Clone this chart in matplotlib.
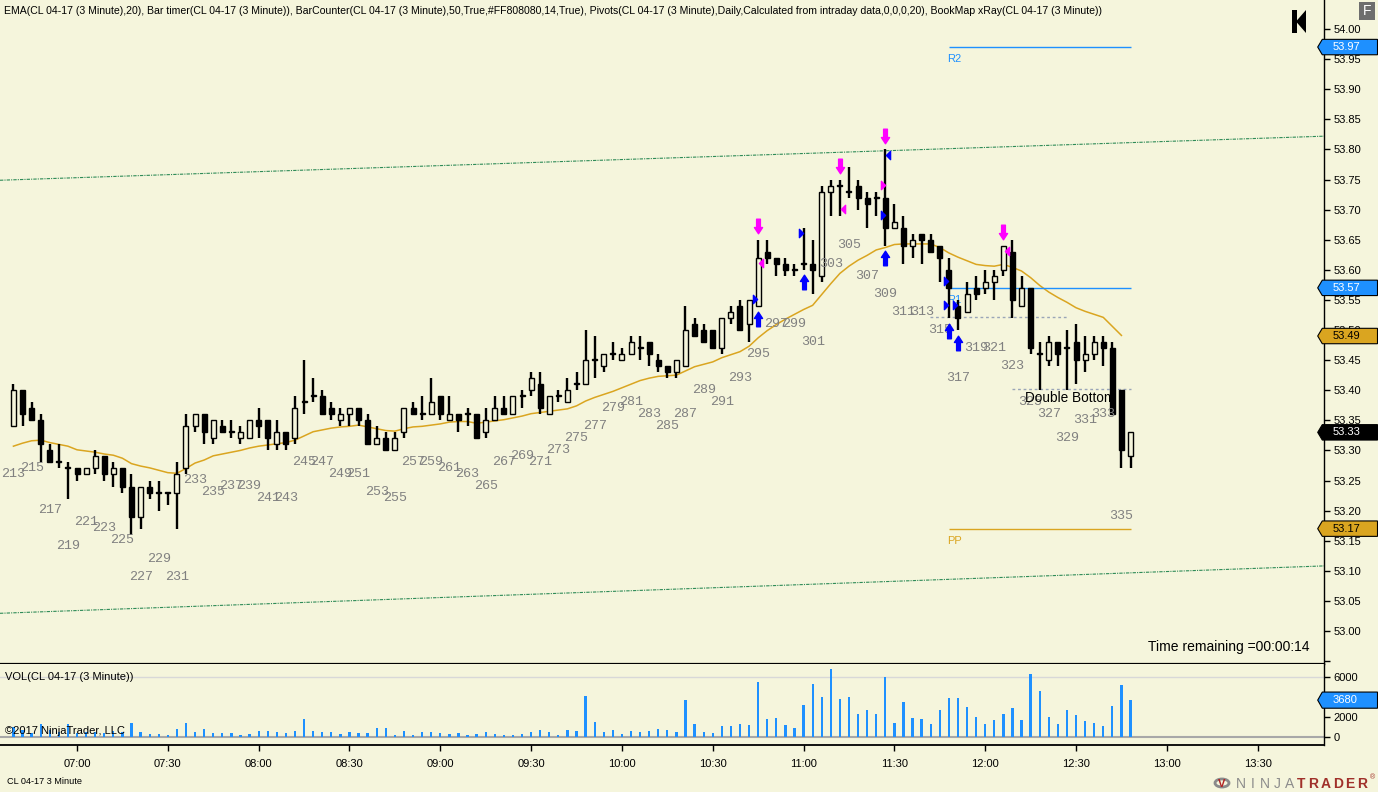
import numpy as np
import matplotlib.pyplot as plt
import matplotlib.transforms as mtransforms
from matplotlib.patches import Polygon, Rectangle, Circle
from matplotlib.path import Path

BG = '#F5F5DC'
plt.rcParams['font.family'] = ['Liberation Sans', 'DejaVu Sans']

# ---- data (CL 04-17, 3 minute bars) ----
first_count = 213
opens = [53.34, 53.40, 53.37, 53.35, 53.30, 53.28, 53.27, 53.27, 53.26, 53.27,
         53.29, 53.26, 53.27, 53.24, 53.19, 53.24, 53.23, 53.23, 53.23, 53.27,
         53.34, 53.36, 53.32, 53.34, 53.33, 53.32, 53.32, 53.35, 53.35, 53.31,
         53.33, 53.32, 53.38, 53.39, 53.39, 53.37, 53.35, 53.36, 53.37, 53.35,
         53.31, 53.32, 53.30, 53.33, 53.37, 53.36, 53.36, 53.39, 53.35, 53.36,
         53.36, 53.36, 53.33, 53.35, 53.37, 53.36, 53.39, 53.40, 53.41, 53.36,
         53.39, 53.38, 53.41, 53.41, 53.45, 53.44, 53.46, 53.45, 53.46, 53.47,
         53.48, 53.45, 53.44, 53.43, 53.44, 53.51, 53.50, 53.50, 53.47, 53.52,
         53.54, 53.51, 53.54, 53.63, 53.62, 53.61, 53.60, 53.61, 53.61, 53.59,
         53.73, 53.74, 53.73, 53.74, 53.72, 53.72, 53.72, 53.67, 53.67, 53.64,
         53.66, 53.65, 53.64, 53.60, 53.54, 53.53, 53.57, 53.57, 53.58, 53.60,
         53.63, 53.54, 53.57, 53.46, 53.45, 53.48, 53.47, 53.48, 53.45, 53.46,
         53.48, 53.47, 53.40, 53.29]
highs = [53.41, 53.40, 53.38, 53.36, 53.31, 53.31, 53.28, 53.27, 53.27, 53.30,
         53.29, 53.28, 53.27, 53.26, 53.24, 53.25, 53.25, 53.23, 53.28, 53.36,
         53.36, 53.36, 53.35, 53.35, 53.35, 53.34, 53.35, 53.37, 53.35, 53.35,
         53.33, 53.39, 53.45, 53.42, 53.40, 53.38, 53.37, 53.37, 53.37, 53.36,
         53.34, 53.33, 53.33, 53.37, 53.38, 53.39, 53.42, 53.39, 53.39, 53.36,
         53.37, 53.36, 53.37, 53.39, 53.39, 53.39, 53.40, 53.43, 53.43, 53.39,
         53.40, 53.42, 53.43, 53.50, 53.49, 53.46, 53.48, 53.47, 53.49, 53.49,
         53.48, 53.46, 53.44, 53.45, 53.54, 53.52, 53.51, 53.50, 53.52, 53.54,
         53.55, 53.55, 53.65, 53.65, 53.62, 53.62, 53.61, 53.67, 53.65, 53.74,
         53.75, 53.75, 53.77, 53.75, 53.73, 53.73, 53.80, 53.71, 53.69, 53.66,
         53.66, 53.66, 53.64, 53.62, 53.55, 53.58, 53.59, 53.60, 53.60, 53.64,
         53.65, 53.59, 53.57, 53.48, 53.49, 53.48, 53.50, 53.51, 53.49, 53.49,
         53.49, 53.48, 53.40, 53.33]
lows = [53.34, 53.34, 53.35, 53.28, 53.28, 53.27, 53.22, 53.25, 53.26, 53.26,
        53.25, 53.24, 53.23, 53.16, 53.17, 53.22, 53.20, 53.21, 53.17, 53.26,
        53.33, 53.31, 53.31, 53.33, 53.32, 53.31, 53.32, 53.32, 53.30, 53.30,
        53.30, 53.31, 53.36, 53.38, 53.36, 53.35, 53.34, 53.34, 53.34, 53.31,
        53.31, 53.30, 53.30, 53.32, 53.36, 53.35, 53.36, 53.35, 53.35, 53.33,
        53.34, 53.32, 53.32, 53.35, 53.36, 53.36, 53.37, 53.39, 53.36, 53.36,
        53.38, 53.38, 53.40, 53.41, 53.42, 53.43, 53.45, 53.45, 53.46, 53.45,
        53.44, 53.43, 53.42, 53.42, 53.44, 53.49, 53.48, 53.47, 53.46, 53.51,
        53.50, 53.48, 53.54, 53.61, 53.59, 53.59, 53.59, 53.60, 53.56, 53.58,
        53.69, 53.69, 53.72, 53.70, 53.67, 53.69, 53.64, 53.67, 53.61, 53.62,
        53.61, 53.63, 53.58, 53.52, 53.50, 53.53, 53.55, 53.56, 53.55, 53.59,
        53.52, 53.54, 53.46, 53.40, 53.44, 53.44, 53.40, 53.41, 53.43, 53.45,
        53.44, 53.36, 53.27, 53.27]
closes = [53.40, 53.36, 53.35, 53.31, 53.28, 53.28, 53.27, 53.26, 53.27, 53.29,
          53.26, 53.27, 53.24, 53.19, 53.24, 53.23, 53.23, 53.23, 53.26, 53.34,
          53.36, 53.33, 53.35, 53.33, 53.33, 53.33, 53.35, 53.34, 53.32, 53.33,
          53.31, 53.37, 53.38, 53.39, 53.36, 53.36, 53.36, 53.37, 53.35, 53.31,
          53.32, 53.30, 53.32, 53.37, 53.36, 53.36, 53.38, 53.36, 53.36, 53.35,
          53.36, 53.32, 53.35, 53.37, 53.36, 53.39, 53.39, 53.42, 53.37, 53.39,
          53.39, 53.40, 53.41, 53.45, 53.45, 53.46, 53.46, 53.46, 53.48, 53.47,
          53.46, 53.44, 53.43, 53.45, 53.50, 53.49, 53.48, 53.47, 53.52, 53.53,
          53.50, 53.55, 53.62, 53.62, 53.61, 53.60, 53.60, 53.61, 53.60, 53.73,
          53.74, 53.74, 53.73, 53.72, 53.71, 53.72, 53.67, 53.68, 53.64, 53.65,
          53.65, 53.63, 53.62, 53.57, 53.52, 53.56, 53.56, 53.58, 53.59, 53.64,
          53.55, 53.57, 53.47, 53.46, 53.48, 53.46, 53.47, 53.45, 53.46, 53.48,
          53.47, 53.36, 53.30, 53.33]
ema20 = [53.307, 53.312, 53.316, 53.317, 53.313, 53.310, 53.307, 53.301, 53.299, 53.297,
         53.294, 53.292, 53.287, 53.278, 53.274, 53.271, 53.267, 53.263, 53.262, 53.270,
         53.279, 53.284, 53.291, 53.294, 53.297, 53.300, 53.304, 53.307, 53.309, 53.311,
         53.313, 53.317, 53.324, 53.331, 53.334, 53.337, 53.339, 53.340, 53.342, 53.339,
         53.336, 53.333, 53.332, 53.336, 53.339, 53.340, 53.342, 53.344, 53.347, 53.348,
         53.348, 53.345, 53.347, 53.349, 53.351, 53.354, 53.357, 53.361, 53.363, 53.365,
         53.367, 53.369, 53.374, 53.382, 53.388, 53.393, 53.398, 53.404, 53.410, 53.416,
         53.420, 53.423, 53.424, 53.425, 53.432, 53.439, 53.443, 53.447, 53.454, 53.459,
         53.464, 53.473, 53.487, 53.499, 53.509, 53.518, 53.526, 53.534, 53.541, 53.559,
         53.577, 53.594, 53.606, 53.616, 53.624, 53.633, 53.637, 53.642, 53.643, 53.643,
         53.643, 53.643, 53.637, 53.628, 53.621, 53.615, 53.609, 53.607, 53.606, 53.609,
         53.604, 53.598, 53.587, 53.574, 53.563, 53.554, 53.546, 53.537, 53.531, 53.526,
         53.521, 53.506, 53.491]
volume = [1000, 700, 400, 1300, 700, 500, 1300, 400, 500, 500,
          400, 600, 500, 1440, 560, 300, 300, 200, 850, 1440,
          560, 850, 390, 390, 390, 200, 300, 660, 660, 560,
          390, 660, 1840, 660, 490, 560, 300, 490, 390, 390,
          950, 950, 200, 660, 200, 560, 560, 460, 300, 460,
          200, 360, 560, 360, 260, 260, 360, 560, 750, 560,
          200, 750, 660, 4100, 1540, 560, 750, 360, 660, 560,
          660, 850, 750, 560, 3710, 1350, 560, 460, 1150, 1150,
          1350, 1250, 5480, 1840, 1940, 1250, 950, 3210, 5280, 4000,
          6760, 3800, 4000, 2330, 2720, 2330, 5970, 1440, 3510, 1940,
          1840, 1350, 2720, 3900, 3900, 3020, 2030, 1350, 1740, 2330,
          2920, 1740, 6270, 4590, 2030, 1350, 2720, 2230, 1640, 1440,
          1150, 3120, 5180, 3680]

time_labels = ['07:00', '07:30', '08:00', '08:30', '09:00', '09:30', '10:00',
               '10:30', '11:00', '11:30', '12:00', '12:30', '13:00', '13:30']
time_bars = [7, 17, 27, 37, 47, 57, 67, 77, 87, 97, 107, 117, 127, 137]

pivot_names = ['R2', 'R1', 'PP']
pivot_values = [53.97, 53.57, 53.17]
pivot_colors = ['#1E90FF', '#1E90FF', '#DAA520']

sell_arrow_bars = [82, 91, 96, 109]
buy_arrow_bars = [82, 87, 96, 103, 104]
# xRay markers: (bar, price, side, colour)
xray_marks = [(82, 53.552, 'right', '#0000FF'), (82, 53.611, 'left', '#FF00FF'),
              (87, 53.661, 'right', '#0000FF'), (91, 53.701, 'left', '#FF00FF'),
              (96, 53.741, 'right', '#FF00FF'), (96, 53.791, 'left', '#0000FF'),
              (96, 53.691, 'right', '#0000FF'), (103, 53.582, 'right', '#0000FF'),
              (103, 53.542, 'right', '#0000FF'), (104, 53.542, 'right', '#0000FF'),
              (109, 53.632, 'left', '#FF00FF')]

channel_upper = [(0, 53.7495), (140, 53.8198)]
channel_lower = [(0, 53.0302), (140, 53.1058)]

opens = np.array(opens); highs = np.array(highs)
lows = np.array(lows); closes = np.array(closes)
n = len(closes)
x = np.arange(n)

W, H = 1378, 792
fig = plt.figure(figsize=(W / 100, H / 100), dpi=100, facecolor=BG)

def fx(px):
    return px / W

def fy(py):
    return 1 - py / H

ax = fig.add_axes([0, fy(664), fx(1324), 664 / H], facecolor=BG)
axv = fig.add_axes([0, fy(745), fx(1324), 81 / H], facecolor=BG)

xlim = (-13.43 / 9.082, (1324 - 13.43) / 9.082)
ax.set_xlim(xlim)
axv.set_xlim(xlim)
ax.set_ylim(54 - 635 / 602, 54 + 29 / 602)
axv.set_ylim(-762, 7257)

# ---- price panel ----
ax.axline(channel_upper[0], channel_upper[1], color='#2E8B57', lw=0.8,
          ls=(0, (3, 1, 1, 1)), zorder=1)
ax.axline(channel_lower[0], channel_lower[1], color='#2E8B57', lw=0.8,
          ls=(0, (3, 1, 1, 1)), zorder=1)

ax.plot(x[:len(ema20)], ema20, color='#DAA520', lw=1.1, zorder=2)

for name, val, col in zip(pivot_names, pivot_values, pivot_colors):
    ax.hlines(val, 103, 123, color=col, lw=1, zorder=2)
    ax.annotate(name, (103, val), xytext=(-1, -5), textcoords='offset points',
                ha='left', va='top', color=col, fontsize=8, zorder=2)

ax.hlines(53.521, 100.9, 116, color='#9AA5B8', lw=1, ls=(0, (2, 2)), zorder=2)
ax.hlines(53.402, 110, 123, color='#9AA5B8', lw=1, ls=(0, (2, 2)), zorder=2)
ax.text(116.3, 53.3866, 'Double Bottom', ha='center', va='center',
        fontsize=9.8, color='black', zorder=6)

ax.vlines(x, lows, highs, color='black', lw=1.7, zorder=3)
up = closes > opens
body_lo = np.minimum(opens, closes)
body_h = np.maximum(np.abs(closes - opens), 0.0016)
ax.bar(x[up], body_h[up], bottom=body_lo[up], width=0.55, facecolor=BG,
       edgecolor='black', lw=1, zorder=4)
ax.bar(x[~up], body_h[~up], bottom=body_lo[~up], width=0.55, facecolor='black',
       edgecolor='black', lw=1, zorder=4)

for i in range(0, n, 2):
    ax.annotate(str(first_count + i), (i, lows[i]), xytext=(0, -34.5),
                textcoords='offset points', ha='center', va='center',
                color='#808080', fontsize=9.6, family='Liberation Mono', zorder=5)

down_arrow = Path([(-0.13, 0.5), (0.13, 0.5), (0.13, -0.07), (0.28, -0.07),
                   (0, -0.5), (-0.28, -0.07), (-0.13, -0.07), (-0.13, 0.5)],
                  closed=True)
up_arrow = Path([(vx, -vy) for vx, vy in down_arrow.vertices], closed=True)
for b in sell_arrow_bars:
    ax.plot(b, highs[b] + 0.022, marker=down_arrow, ms=10.5, color='#FF00FF',
            mec='#FF00FF', zorder=6)
for b in buy_arrow_bars:
    ax.plot(b, lows[b] - 0.021, marker=up_arrow, ms=10.5, color='#0000FF',
            mec='#0000FF', zorder=6)

tri_r = Path([(-0.25, 0.5), (0.25, 0), (-0.25, -0.5), (-0.25, 0.5)], closed=True)
tri_l = Path([(0.25, 0.5), (-0.25, 0), (0.25, -0.5), (0.25, 0.5)], closed=True)
for b, p, side, col in xray_marks:
    if side == 'right':
        ax.plot(b - 0.3, p, marker=tri_r, ms=6, color=col, mec=col, zorder=6)
    else:
        ax.plot(b + 0.35, p, marker=tri_l, ms=6, color=col, mec=col, zorder=6)

ax.text(1310 / 1324, 52.973, 'Time remaining =00:00:14', transform=ax.get_yaxis_transform(),
        ha='right', va='center', fontsize=10, color='black')

for side in ['left', 'top']:
    ax.spines[side].set_visible(False)
ax.spines['right'].set_linewidth(1)
ax.spines['bottom'].set_linewidth(1.6)
ax.yaxis.tick_right()
ax.set_yticks(np.arange(52.95, 54.01, 0.05))
ax.set_yticklabels(['' if abs(v - 52.95) < 1e-6 else f'{v:.2f}'
                    for v in np.arange(52.95, 54.01, 0.05)])
ax.tick_params(axis='y', length=4, width=1, pad=3, labelsize=8, colors='black')
ax.tick_params(axis='x', bottom=False, labelbottom=False)


def value_box(a, y, label, fc, tc, half):
    tr = mtransforms.blended_transform_factory(a.transAxes, a.transData)
    x0, x1, x2 = 1317.7 / 1324, 1322.3 / 1324, 1377.5 / 1324
    a.add_patch(Polygon([(x0, y), (x1, y + half), (x2, y + half), (x2, y - half),
                         (x1, y - half)], closed=True, transform=tr, facecolor=fc,
                        edgecolor='black', lw=0.8, clip_on=False, zorder=20))
    a.text(1333 / 1324, y, label, transform=tr, color=tc, fontsize=8,
           va='center', ha='left', zorder=21, clip_on=False)


value_box(ax, pivot_values[0], f'{pivot_values[0]:.2f}', '#1E90FF', 'white', 0.0128)
value_box(ax, pivot_values[1], f'{pivot_values[1]:.2f}', '#1E90FF', 'white', 0.0128)
value_box(ax, round(ema20[-1], 2), f'{ema20[-1]:.2f}', '#DAA520', 'black', 0.0128)
value_box(ax, closes[-1], f'{closes[-1]:.2f}', 'black', 'white', 0.0128)
value_box(ax, pivot_values[2], f'{pivot_values[2]:.2f}', '#DAA520', 'black', 0.0128)

# ---- volume panel ----
axv.axhline(6000, color='#D8D8D8', lw=1, zorder=0)
axv.axhline(0, color='#A8A8A8', lw=1.5, zorder=1)
axv.bar(x, volume, width=0.25, color='#1E90FF', zorder=2)
axv.text(5 / 1324, 6000, 'VOL(CL 04-17 (3 Minute))', transform=axv.get_yaxis_transform(),
         ha='left', va='center', fontsize=8, color='black', zorder=5)
axv.text(5 / 1324, 600, '\u00a92017 NinjaTrader, LLC', transform=axv.get_yaxis_transform(),
         ha='left', va='center', fontsize=8, color='black', zorder=5)
for side in ['left', 'top']:
    axv.spines[side].set_visible(False)
axv.spines['right'].set_linewidth(1)
axv.spines['bottom'].set_linewidth(1.3)
axv.yaxis.tick_right()
axv.set_yticks([0, 2000, 4000, 6000])
axv.tick_params(axis='y', length=4, width=1, pad=3, labelsize=8, colors='black')
axv.set_xticks(time_bars)
axv.set_xticklabels(time_labels)
axv.tick_params(axis='x', length=4, width=1, pad=6, labelsize=8, colors='black')
value_box(axv, volume[-1], str(volume[-1]), '#1E90FF', 'white', 800)

# ---- header / footer ----
fig.text(fx(4), fy(11), 'EMA(CL 04-17 (3 Minute),20), Bar timer(CL 04-17 (3 Minute)), '
         'BarCounter(CL 04-17 (3 Minute),50,True,#FF808080,14,True), Pivots(CL 04-17 '
         '(3 Minute),Daily,Calculated from intraday data,0,0,0,20), BookMap xRay(CL 04-17 '
         '(3 Minute))', ha='left', va='center', fontsize=7.6, color='black')
fig.text(fx(7), fy(782), 'CL 04-17 3 Minute', ha='left', va='center', fontsize=6.6,
         color='black')

fig.patches.append(Rectangle((fx(1359), fy(20)), fx(16), 18 / H, transform=fig.transFigure,
                             facecolor='#6E6E6E', edgecolor='none'))
fig.text(fx(1367), fy(11), 'F', ha='center', va='center', fontsize=10, color='white')
fig.patches.append(Rectangle((fx(1292), fy(33)), fx(4.5), 23 / H, transform=fig.transFigure,
                             facecolor='black', edgecolor='none'))
fig.patches.append(Polygon([(fx(1296), fy(21.5)), (fx(1306), fy(10)), (fx(1306), fy(33))],
                           closed=True, transform=fig.transFigure, facecolor='black',
                           edgecolor='none'))

fig.patches.append(Circle((fx(1222), fy(783)), 7 / W, transform=fig.transFigure,
                          facecolor='none', edgecolor='#8A8A8A', lw=2))
fig.text(fx(1222), fy(784), 'V', ha='center', va='center', fontsize=8,
         color='#B22222', fontweight='bold')
for k, ch in enumerate('NINJATRADER'):
    col = '#8C8C8C' if k < 5 else '#A0302A'
    fig.text(fx(1241 + 12.1 * k), fy(784), ch, ha='center', va='center', fontsize=10,
             color=col, fontweight='normal' if k < 5 else 'bold')
fig.text(fx(1373), fy(778), '\u00ae', ha='center', va='center', fontsize=5, color='#A0302A')

fig.savefig('out.png', dpi=100, facecolor=BG)
